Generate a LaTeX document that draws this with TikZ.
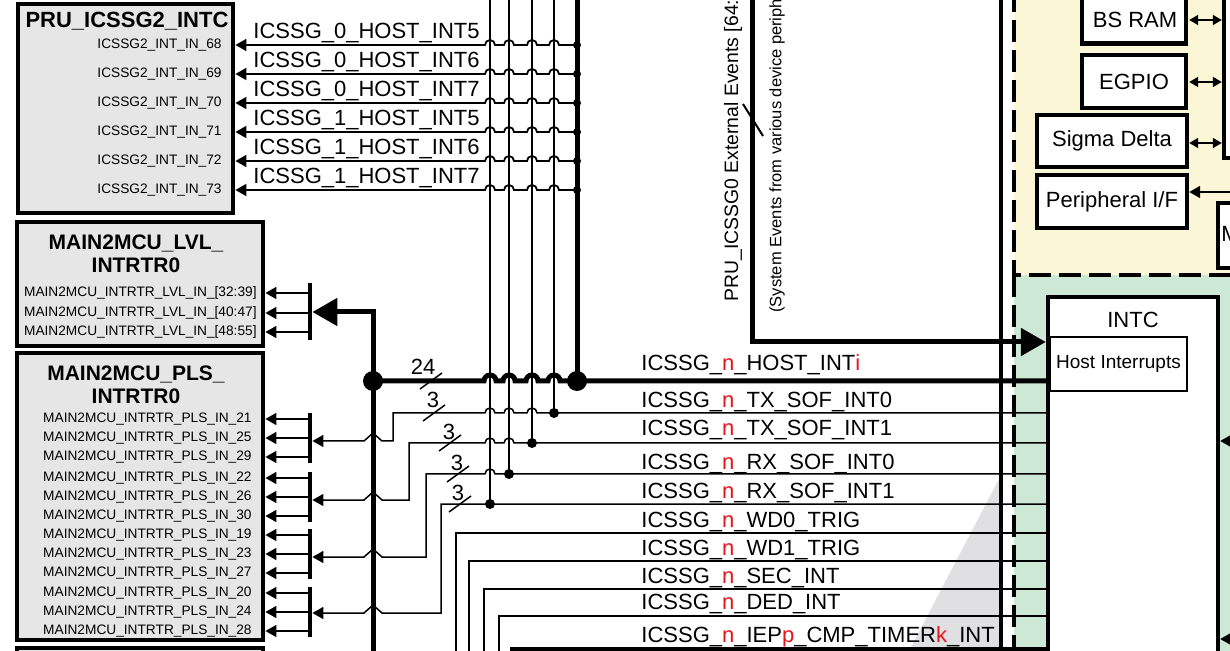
\documentclass[tikz,border=0pt]{standalone}
\usepackage{fontspec}
\setmainfont{Liberation Sans}
\setsansfont{Liberation Sans}
\usetikzlibrary{arrows.meta, calc}
\definecolor{BoxGry}  {HTML}{E6E6E6}
\definecolor{PaleYl}  {HTML}{FBF6D6}
\definecolor{PaleGrn} {HTML}{CDE9D6}
\definecolor{ShadeGry}{HTML}{E0E0E2}
\definecolor{IntRed}  {HTML}{E8141B}
\newcommand{\rn}[1]{\textcolor{IntRed}{#1}}

\begin{document}
\begin{tikzpicture}[
  x=0.5pt, y=-0.5pt, >={Triangle[length=5.5pt,width=6pt]},
  every node/.style={inner sep=0pt},
  box/.style  = {draw, line width=2.4pt, fill=BoxGry},
  blk/.style  = {draw, line width=2.2pt, fill=white, font=\fontsize{11}{13}\selectfont},
  brk/.style  = {fill=black, minimum width=2pt},
  ttl/.style  = {font=\fontsize{10.5}{11.5}\selectfont\bfseries, align=center},
  pin/.style  = {font=\fontsize{6.85}{8}\selectfont, anchor=east},
  sig/.style  = {font=\fontsize{11}{13}\selectfont, anchor=base west},
  wdt/.style  = {font=\fontsize{11}{13}\selectfont},
  wire/.style = {line width=0.75pt},
  bus/.style  = {line width=2.5pt},
  big/.style  = {-{Triangle[length=12.5pt,width=13.5pt]}},
  hopl/.style = {insert path={arc[start angle=0, end angle=180, radius=2.5pt]}},
  hopr/.style = {insert path={arc[start angle=180, end angle=0, radius=3pt]}},
]
\useasboundingbox (0,0) rectangle (1230,651);
\clip (0,0) rectangle (1230,651);

% ── Regions ───────────────────────────────────────────────────────────────────
\fill[PaleYl]   (1014,-10) rectangle (1240,275);
\fill[PaleGrn]  (1014,275) rectangle (1240,660);
\fill[ShadeGry] (1001,475) -- (909,651) -- (1001,651) -- cycle;
\draw[line width=2pt] (1001,-10) -- (1001,660);
\draw[line width=2pt, dash pattern=on 11pt off 4pt] (1014,-10) -- (1014,275) -- (1240,275);
\draw[line width=2pt, dash pattern=on 11pt off 4pt] (1014,275) -- (1014,660);

% ── Left blocks ───────────────────────────────────────────────────────────────
\node[box, minimum width=107.5pt, minimum height=104.5pt] (pru2) at (125.5,108.5) {};
\node[ttl, font=\fontsize{11}{12}\selectfont\bfseries] (pru2t) at (127,21) {PRU\_ICSSG2\_INTC};
\node[box, minimum width=123pt, minimum height=62pt] (lvl) at (140,284) {};
\node[ttl] (lvlt) at (136,253.5) {MAIN2MCU\_LVL\_\\INTRTR0};
\node[box, minimum width=123pt, minimum height=143.5pt] (pls) at (140,496.5) {};
\node[ttl] (plst) at (136,384.5) {MAIN2MCU\_PLS\_\\INTRTR0};
\node[box, minimum width=123pt, minimum height=40pt] (nxt) at (140,688) {};
\node[brk, minimum height=28.5pt] (lvlbr) at (310,311.5) {};

% ── INTC and peripherals ──────────────────────────────────────────────────────
\node[blk, minimum width=85pt, minimum height=201.5pt] (intc) at (1133,498.5) {};
\node[wdt] (intct) at (1133,320) {INTC};
\node[draw, line width=0.6pt, fill=white, minimum width=68.5pt, minimum height=27pt,
      font=\fontsize{9.5}{11}\selectfont] (hostint) at (1118.5,364) {Host Interrupts};

\node[blk, minimum width=52pt, minimum height=27pt] (bsram) at (1134,16.5) {};
\node[wdt] (bsramt) at (1135,20) {BS RAM};
\node[blk, minimum width=52pt, minimum height=26.5pt] (egpio) at (1134,81.5) {EGPIO};
\node[blk, minimum width=75pt, minimum height=26pt]   (sigma) at (1112,141) {Sigma Delta};
\node[blk, minimum width=75pt, minimum height=26.5pt] (perif) at (1112,201.5) {Peripheral I/F};
\node[blk, minimum width=38pt, minimum height=84pt]   (rbox)  at (1262,74) {};
\node[blk, minimum width=41pt, minimum height=32.5pt] (mbox)  at (1259,235.5) {};
\node[wdt, anchor=west] (mboxt) at (1221,234) {M};

\foreach \y in {20, 82, 143}
  \draw[wire, <->, >={Triangle[length=4.5pt,width=5pt]}] (perif.east |- 0,\y) -- (rbox.west |- 0,\y);
\coordinate (pin_in) at (1240,192);
\draw[wire, ->] (pin_in) -- (perif.east |- pin_in);
\foreach \y in {441, 639}
  \draw[wire, ->] (1240,\y) -- (intc.east |- 0,\y);

% ── External events ───────────────────────────────────────────────────────────
\coordinate (evtop) at (752,-5);
\draw[bus, big] (evtop) -- (752,342) -- (intc.west |- 0,342);
\draw[line width=1pt] (743,104) -- (763,136);
\node[rotate=90, anchor=west, font=\fontsize{9.7}{11}\selectfont]
  (evlbl) at (733,302) {PRU\_ICSSG0 External Events [64:};
\node[rotate=90, anchor=west, font=\fontsize{8.25}{10}\selectfont]
  (evsub) at (777,313) {(System Events from various device periph};

% ── Host interrupt bus ────────────────────────────────────────────────────────
\coordinate (hbus) at (577,381);
\coordinate (lbus) at (373,381);
\draw[bus] (577,-5) -- (hbus);
\draw[bus] (lbus) -- (484,381) [hopr] -- (503,381) [hopr] -- (526,381) [hopr]
  -- (548,381) [hopr] -- (intc.west |- hbus);
\draw[bus, big] (373,660) -- (373,312) -- (lvlbr.east |- 0,312);
\fill (hbus) circle[radius=5pt];
\fill (lbus) circle[radius=5pt];

\foreach \y/\g/\h [count=\i] in {45/0/5, 74/0/6, 103/0/7, 132/1/5, 161/1/6, 190/1/7}{
  \node[sig] (h\i) at (253,\y-6.5) {ICSSG\_\g\_HOST\_INT\h};
  \node[pin] (in\i) at (222,\y) {ICSSG2\_INT\_IN\_\the\numexpr67+\i\relax};
  \draw[line width=0.9pt, ->] (hbus |- 0,\y) -- (559,\y) [hopl] -- (537,\y) [hopl]
    -- (514,\y) [hopl] -- (495,\y) [hopl] -- (pru2.east |- 0,\y);
  \fill (hbus |- 0,\y) circle[radius=2pt];
}

% ── Taps ──────────────────────────────────────────────────────────────────────
\foreach \x/\y in {490/504, 509/474, 532/443, 554/413}{
  \draw[wire] (\x,-5) -- (\x,\y);
  \fill (\x,\y) circle[radius=2.5pt];
}

% ── Level router ──────────────────────────────────────────────────────────────
\foreach \y/\rg [count=\i] in {293/32:39, 313/40:47, 332/48:55}{
  \node[pin] (lv\i) at (257,\y) {MAIN2MCU\_INTRTR\_LVL\_IN\_[\rg]};
  \draw[wire, ->] (lvlbr.west |- 0,\y) -- (lvl.east |- 0,\y);
}

% ── Pulse router ──────────────────────────────────────────────────────────────
\foreach \g/\yc/\na/\nb/\nc in {1/438/21/25/29, 2/497/22/26/30, 3/554/19/23/27, 4/612/20/24/28}{
  \node[brk, minimum height=25pt] (br\g) at (310,\yc) {};
  \foreach \dy/\nm [count=\k] in {-19/\na, 0/\nb, 19/\nc}{
    \node[pin] (p\g\k) at (252,\yc+\dy) {MAIN2MCU\_INTRTR\_PLS\_IN\_\nm};
    \draw[wire, ->] (br\g.west |- 0,\yc+\dy) -- (pls.east |- 0,\yc+\dy);
  }
}

\draw[wire, ->] (intc.west |- 0,413) -- (537,413) [hopl] -- (514,413) [hopl] -- (495,413) [hopl]
  -- (393,413) -- (393,441) -- (382,441) -- (373,433) -- (364,441) -- (br1.east |- 0,441);
\draw[wire, ->] (intc.west |- 0,443) -- (514,443) [hopl] -- (495,443) [hopl]
  -- (409,443) -- (409,500) -- (382,500) -- (373,492) -- (364,500) -- (br2.east |- 0,500);
\draw[wire, ->] (intc.west |- 0,474) -- (495,474) [hopl]
  -- (426,474) -- (426,557) -- (382,557) -- (373,549) -- (364,557) -- (br3.east |- 0,557);
\draw[wire, ->] (intc.west |- 0,504)
  -- (441,504) -- (441,613) -- (382,613) -- (373,605) -- (364,613) -- (br4.east |- 0,613);

% ── Bus widths ────────────────────────────────────────────────────────────────
\draw[wire] (420,389) -- (442,373);
\node[wdt] (w24) at (423,367) {24};
\foreach \x/\y/\lx/\ly [count=\i] in {434/413/433/400, 450/443/449/432, 458/474/457/463, 460/504/458/493}{
  \draw[wire] (\x-11,\y+8) -- (\x+11,\y-8);
  \node[wdt] (w3\i) at (\lx,\ly) {3};
}

% ── Other events ──────────────────────────────────────────────────────────────
\foreach \x/\y in {456/533, 469/561, 484/589, 499/616}
  \draw[wire] (\x,660) -- (\x,\y) -- (intc.west |- 0,\y);
\draw[line width=2pt] (512,660) -- (512,649) -- (intc.west |- 0,649);

\foreach \y/\s [count=\i] in {370.5/HOST\_INT\rn{i}, 407.5/TX\_SOF\_INT0, 435.5/TX\_SOF\_INT1,
    469.5/RX\_SOF\_INT0, 498.5/RX\_SOF\_INT1, 527.5/WD0\_TRIG, 555.5/WD1\_TRIG,
    583.5/SEC\_INT, 609.5/DED\_INT, 642.5/IEP\rn{p}\_CMP\_TIMER\rn{k}\_INT}
  \node[sig] (r\i) at (641,\y) {ICSSG\_\rn{n}\_\s};

\end{tikzpicture}
\end{document}
